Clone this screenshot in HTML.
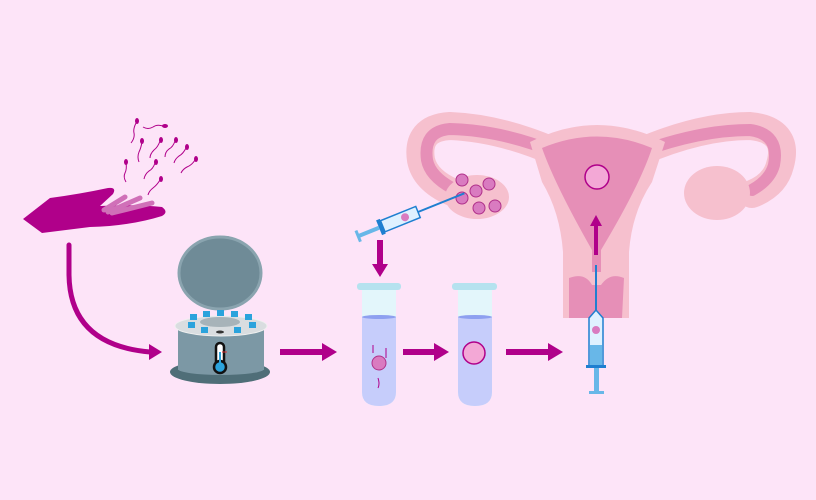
<!DOCTYPE html>
<html><head><meta charset="utf-8"><style>
html,body{margin:0;padding:0;background:#fde4f8;}
svg{display:block}
</style></head><body>
<svg width="816" height="500" viewBox="0 0 816 500" xmlns="http://www.w3.org/2000/svg">
<rect width="816" height="500" fill="#fde4f8"/>

<!-- Sperm -->
<g stroke="#b0008a" stroke-width="1" fill="none">
<path d="M136,123 q-3,6 -2,10 q1,5 -3,10"/>
<path d="M163,126 q-6,-2 -10,1 q-5,3 -10,0"/>
<path d="M142,142 q-1,6 -3,10 q-2,5 0,10"/>
<path d="M160,141 q-2,6 -6,9 q-4,4 -4,8"/>
<path d="M175,141 q-2,6 -6,8 q-4,3 -4,8"/>
<path d="M186,148 q-3,6 -7,8 q-4,3 -5,7"/>
<path d="M195,160 q-3,5 -8,7 q-4,2 -6,6"/>
<path d="M126,163 q1,6 -1,10 q-2,4 1,9"/>
<path d="M155,163 q-2,6 -6,8 q-4,3 -5,8"/>
<path d="M160,180 q-3,5 -7,8 q-4,3 -5,7"/>
</g>
<g fill="#b0008a">
<ellipse cx="137" cy="121" rx="2" ry="3"/>
<ellipse cx="165" cy="126" rx="3" ry="2"/>
<ellipse cx="142" cy="141" rx="2" ry="3"/>
<ellipse cx="161" cy="140" rx="2" ry="3"/>
<ellipse cx="176" cy="140" rx="2" ry="3"/>
<ellipse cx="187" cy="147" rx="2" ry="3"/>
<ellipse cx="196" cy="159" rx="2" ry="3"/>
<ellipse cx="126" cy="162" rx="2" ry="3"/>
<ellipse cx="156" cy="162" rx="2" ry="3"/>
<ellipse cx="161" cy="179" rx="2" ry="3"/>
</g>

<!-- Hand -->
<path d="M23,219 L50,198 Q80,194 108,188 Q117,187 113,194 L100,206 Q135,204 162,207 Q169,212 162,216 Q130,226 90,227 L42,233 Z" fill="#b0008a"/>
<g stroke="#d070b8" stroke-width="5" stroke-linecap="round">
<line x1="104" y1="210" x2="125" y2="197"/>
<line x1="108" y1="212" x2="140" y2="198"/>
<line x1="112" y1="213" x2="152" y2="203"/>
</g>

<!-- Curved arrow -->
<path d="M69,245 L69,275 Q70,345 150,352" stroke="#b0008a" stroke-width="5" fill="none" stroke-linecap="round"/>
<polygon points="149,344 162,352 149,360" fill="#b0008a"/>

<!-- Centrifuge -->
<rect x="213.5" y="237" width="14" height="11" fill="none" stroke="#b0307a" stroke-width="2"/>
<ellipse cx="220" cy="273" rx="41" ry="36" fill="#6f8b97" stroke="#8aa4af" stroke-width="3"/>
<ellipse cx="220" cy="372" rx="50" ry="12" fill="#4f6e78"/>
<rect x="178" y="326" width="86" height="44" fill="#7c98a5"/>
<ellipse cx="221" cy="369" rx="43" ry="6" fill="#7c98a5"/>
<ellipse cx="221" cy="326" rx="46" ry="10" fill="#d9dde0" stroke="#f0f0f0" stroke-width="1"/>
<ellipse cx="220" cy="322" rx="20" ry="5" fill="#a7b3b9"/>
<g fill="#2ba3dc">
<rect x="190" y="314" width="7" height="6"/><rect x="203" y="311" width="7" height="6"/>
<rect x="217" y="310" width="7" height="6"/><rect x="231" y="311" width="7" height="6"/>
<rect x="245" y="314" width="7" height="6"/><rect x="188" y="322" width="7" height="6"/>
<rect x="249" y="322" width="7" height="6"/><rect x="201" y="327" width="7" height="6"/>
<rect x="234" y="327" width="7" height="6"/>
</g>
<ellipse cx="220" cy="332" rx="4" ry="1.5" fill="#333"/>
<rect x="216" y="343" width="8" height="24" rx="4" fill="#fff" stroke="#111" stroke-width="2.5"/>
<circle cx="220" cy="367" r="6" fill="#2ba3dc" stroke="#111" stroke-width="2.5"/>
<rect x="219" y="352" width="2" height="12" fill="#2ba3dc"/>
<line x1="222" y1="352" x2="227" y2="352" stroke="#d33" stroke-width="1"/>

<!-- Uterus -->
<g fill="none" stroke-linecap="round">
<path d="M555,152 Q500,128 450,126 Q416,128 421,160 Q425,180 452,192" stroke="#f6c0ce" stroke-width="28"/>
<path d="M640,152 Q700,126 750,126 Q790,130 780,165 Q775,185 752,194" stroke="#f6c0ce" stroke-width="28"/>
<path d="M555,152 Q500,130 450,129 Q423,131 427,160 Q430,176 452,188" stroke="#e68fb7" stroke-width="12"/>
<path d="M640,152 Q700,130 750,130 Q780,134 774,165 Q770,180 752,190" stroke="#e68fb7" stroke-width="12"/>
</g>
<path d="M530,142 Q597,108 665,142 L652,182 Q632,212 629,252 L629,318 L563,318 L563,252 Q560,212 542,182 Z" fill="#f6c0ce"/>
<path d="M542,148 Q597,125 652,148 Q640,185 601,250 L601,272 L592,272 L592,250 Q555,185 542,148 Z" fill="#e68fb7"/>
<path d="M569,318 L569,278 Q585,272 592,285 L601,285 Q610,272 624,278 L622,318 Z" fill="#e68fb7"/>
<ellipse cx="477" cy="197" rx="32" ry="22" fill="#f6c0ce"/>
<ellipse cx="717" cy="193" rx="33" ry="27" fill="#f6c0ce"/>
<g fill="#d97bc0" stroke="#b0308a" stroke-width="1">
<circle cx="462" cy="180" r="6"/><circle cx="489" cy="184" r="6"/><circle cx="476" cy="191" r="6"/>
<circle cx="462" cy="198" r="6"/><circle cx="479" cy="208" r="6"/><circle cx="495" cy="206" r="6"/>
</g>
<circle cx="597" cy="177" r="12" fill="#f3a8d6" stroke="#b0008a" stroke-width="1.5"/>

<!-- arrows -->
<g fill="#b0008a">
<rect x="280" y="349" width="44" height="6"/><polygon points="322,343 337,352 322,361"/>
<rect x="403" y="349" width="33" height="6"/><polygon points="434,343 449,352 434,361"/>
<rect x="506" y="349" width="44" height="6"/><polygon points="548,343 563,352 548,361"/>
<rect x="377" y="240" width="6" height="26"/><polygon points="372,264 380,277 388,264"/>
<rect x="594" y="225" width="4" height="30"/><polygon points="590,226 596,215 602,226"/>
</g>

<!-- top syringe -->
<g transform="translate(418,212) rotate(-22)">
<line x1="0" y1="0" x2="50" y2="0" stroke="#1f7fd0" stroke-width="2"/>
<rect x="-38" y="-6" width="38" height="12" fill="#dff1ff" stroke="#1f7fd0" stroke-width="1.5"/>
<circle cx="-14" cy="0" r="4" fill="#d97bc0"/>
<rect x="-42" y="-8" width="4" height="16" fill="#1f7fd0"/>
<rect x="-64" y="-2" width="22" height="4" fill="#68b7e8"/>
<rect x="-66" y="-6" width="3" height="12" fill="#68b7e8"/>
</g>

<!-- bottom syringe -->
<line x1="596" y1="265" x2="596" y2="312" stroke="#1f7fd0" stroke-width="2"/>
<path d="M589,318 L596,310 L603,318 L603,366 L589,366 Z" fill="#dff1ff" stroke="#1f7fd0" stroke-width="1.5"/>
<rect x="590" y="345" width="12" height="21" fill="#68b7e8"/>
<circle cx="596" cy="330" r="4" fill="#d97bc0"/>
<rect x="586" y="365" width="20" height="3" fill="#1f7fd0"/>
<rect x="594" y="368" width="5" height="24" fill="#68b7e8"/>
<rect x="589" y="391" width="15" height="3" fill="#68b7e8"/>

<!-- tubes -->
<g>
<path d="M362,289 L362,392 Q362,406 379,406 Q396,406 396,392 L396,289 Z" fill="#e3f6fb"/>
<path d="M362,317 L362,392 Q362,406 379,406 Q396,406 396,392 L396,317 Z" fill="#c6cdfb"/>
<ellipse cx="379" cy="317" rx="17" ry="2" fill="#8ea0f0"/>
<rect x="357" y="283" width="44" height="7" rx="3" fill="#b5e2ef"/>
<circle cx="379" cy="363" r="7" fill="#d97bc0" stroke="#b0308a"/>
<g stroke="#b0008a" stroke-width="1" fill="none"><path d="M373,345 v8"/><path d="M386,348 v10"/><path d="M378,378 q2,6 0,10"/></g>
<path d="M458,289 L458,392 Q458,406 475,406 Q492,406 492,392 L492,289 Z" fill="#e3f6fb"/>
<path d="M458,317 L458,392 Q458,406 475,406 Q492,406 492,392 L492,317 Z" fill="#c6cdfb"/>
<ellipse cx="475" cy="317" rx="17" ry="2" fill="#8ea0f0"/>
<rect x="452" y="283" width="45" height="7" rx="3" fill="#b5e2ef"/>
<circle cx="474" cy="353" r="11" fill="#f3a8d6" stroke="#b0008a" stroke-width="1.5"/>
</g>
</svg>
</body></html>
